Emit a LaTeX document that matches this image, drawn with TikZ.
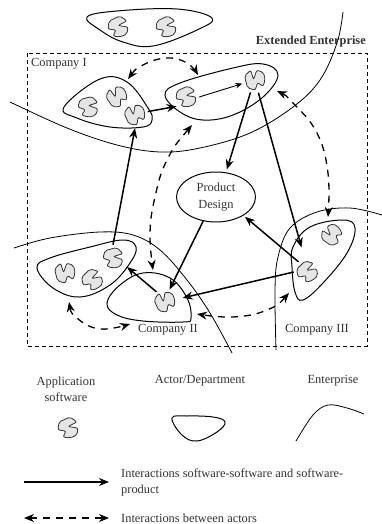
\documentclass[tikz,border=0pt]{standalone}
\usepackage{fontspec}
\setmainfont{Liberation Serif}
\usetikzlibrary{arrows.meta,shapes.geometric}
\tikzset{
  softnode/.style={circle, inner sep=0pt, minimum size=26pt},
  softshape/.style={draw=black!80, fill=black!10, line width=0.8pt},
  actorline/.style={line width=1pt},
  entline/.style={line width=0.8pt},
  softarrow/.style={-{Stealth[length=10pt,width=8pt]}, line width=1.5pt},
  thinarrow/.style={-{Stealth[length=7pt,width=5.5pt]}, line width=0.9pt},
  actorarrow/.style={{Stealth[length=10pt,width=8pt]}-{Stealth[length=10pt,width=8pt]}, line width=1.3pt, dash pattern=on 7pt off 6pt},
  lbl/.style={font=\fontsize{12.4}{16}\selectfont, text=black!80, inner sep=0pt, align=center},
  pics/soft/.style={code={
    \draw[softshape, rounded corners=2pt] (-9,-6) -- (2,-11) -- (9,-6) -- (0,-1.5) -- (10,0) -- (9,7) -- (2,10) -- (-5,9) -- (-2,3) -- (-10,2) -- cycle;
  }}
}
\begin{document}
\begin{tikzpicture}[x=1pt,y=-1pt]
  \useasboundingbox (0,0) rectangle (382,524);

  % frame
  \draw[line width=0.7pt, dash pattern=on 4pt off 3pt] (27,53) rectangle (367,346);
  \node[lbl, font=\fontsize{12.4}{16}\selectfont\bfseries, anchor=east] (extlabel) at (366,42) {Extended Enterprise};
  \node[lbl, anchor=west] (comp1) at (31,64) {Company I};
  \node[lbl] (comp2) at (168,330) {Company II};
  \node[lbl] (comp3) at (317,330) {Company III};

  % enterprises
  \draw[entline] plot[smooth, tension=0.6] coordinates {(343,12) (337,43) (320,80) (293,107) (250,133) (200,148) (160,152) (117,145) (67,128) (10,102)};
  \draw[entline] plot[smooth, tension=0.6] coordinates {(14,248) (50,238) (100,232) (133,235) (160,250) (187,280) (210,313) (232,353)};
  \draw[entline] plot[smooth, tension=0.6] coordinates {(382,215) (350,208) (317,212) (290,228) (278,257) (275,290) (276,350)};

  % actors
  \draw[actorline] plot[smooth cycle, tension=0.65] coordinates {(87,17) (117,11) (177,9) (212,18) (197,30) (153,46) (123,42) (100,30)};
  \draw[actorline] plot[smooth cycle, tension=0.65] coordinates {(64,107) (100,79) (127,82) (148,108) (152,120) (143,127) (110,127) (77,118)};
  \draw[actorline] plot[smooth cycle, tension=0.65] coordinates {(165,95) (180,83) (233,68) (263,64) (278,75) (263,97) (233,115) (203,120) (180,112)};
  \draw[actorline] plot[smooth cycle, tension=0.65] coordinates {(37,268) (50,258) (90,247) (123,240) (136,247) (130,263) (110,285) (80,297) (53,288)};
  \draw[actorline] plot[smooth cycle, tension=0.65] coordinates {(107,303) (120,285) (143,273) (170,278) (187,298) (191,318) (183,322) (143,321) (117,315)};
  \draw[actorline] plot[smooth cycle, tension=0.65] coordinates {(292,267) (293,247) (310,227) (343,220) (355,228) (347,253) (323,283) (303,300) (295,292)};

  % software
  \foreach \nm/\px/\py/\rot in {t1/118/27/0, t2/166/27/0,
      s1a/88/107/-10, s1b/117/97/100, s1c/135/115/90,
      s2a/186/97/0, s2b/255/80/80,
      s3a/65/273/80, s3b/92/280/20, s3c/113/258/-10,
      s4/165/302/90, s5a/332/235/120, s5b/307/272/20, legsoft/68/428/0} {
    \node[softnode] (\nm) at (\px,\py) {};
    \pic[rotate=\rot] at (\nm) {soft};
  }

  % product
  \node[ellipse, draw, actorline, minimum width=79pt, minimum height=50pt, inner sep=0pt, lbl, text=black!80] (product) at (216,197) {Product\\[1pt]Design};

  % interactions software
  \coordinate (a3tip) at (127,267);
  \draw[softarrow] (s3c.north) -- (s1c.south);
  \draw[softarrow] (s1c.15) -- (s2a.south west);
  \draw[thinarrow] (s2a.east) -- (s2b.196);
  \draw[softarrow, shorten >=3pt] (s2b.250) -- (product.68);
  \draw[softarrow, shorten >=12pt] (s2b.-75) -- (s5b.100);
  \draw[softarrow, shorten >=2pt] (s5b.130) -- (product.-34);
  \draw[softarrow, shorten >=5pt] (s5b.west) -- (s4);
  \draw[softarrow] (product.-118) -- (s4.70);
  \draw[softarrow] (s4.130) -- (a3tip);

  % interactions actors
  \draw[actorarrow] plot[smooth, tension=0.7] coordinates {(128,79) (143,65) (167,58) (187,63) (198,75)};
  \draw[actorarrow] plot[smooth, tension=0.7] coordinates {(277,91) (293,103) (317,133) (328,173) (328,217)};
  \draw[actorarrow] plot[smooth, tension=0.7] coordinates {(192,125) (167,160) (155,197) (150,233) (153,270)};
  \draw[actorarrow] plot[smooth, tension=0.7] coordinates {(289,293) (267,310) (233,317) (197,314)};
  \draw[actorarrow] plot[smooth, tension=0.7] coordinates {(69,302) (77,318) (100,329) (130,324)};

  % legend
  \node[lbl] (legapp) at (66,389) {Application\\software};
  \node[lbl] (legact) at (200,381) {Actor/Department};
  \node[lbl] (legent) at (333,381) {Enterprise};
  \draw[actorline] plot[smooth cycle, tension=0.65] coordinates {(172,418) (187,416) (213,417) (225,422) (217,432) (197,441) (182,435)};
  \draw[entline] plot[smooth, tension=0.6] coordinates {(296,441) (313,415) (328,405) (347,408) (364,414)};
  \coordinate (solidl) at (24,482);
  \coordinate (solidr) at (109,482);
  \coordinate (dashl) at (24,518);
  \coordinate (dashr) at (109,518);
  \draw[softarrow] (solidl) -- (solidr);
  \draw[actorarrow] (dashl) -- (dashr);
  \node[lbl, anchor=west, align=left] (legsolid) at (121,482) {Interactions software-software and software-\\product};
  \node[lbl, anchor=west] (legdash) at (121,518) {Interactions between actors};
\end{tikzpicture}
\end{document}
